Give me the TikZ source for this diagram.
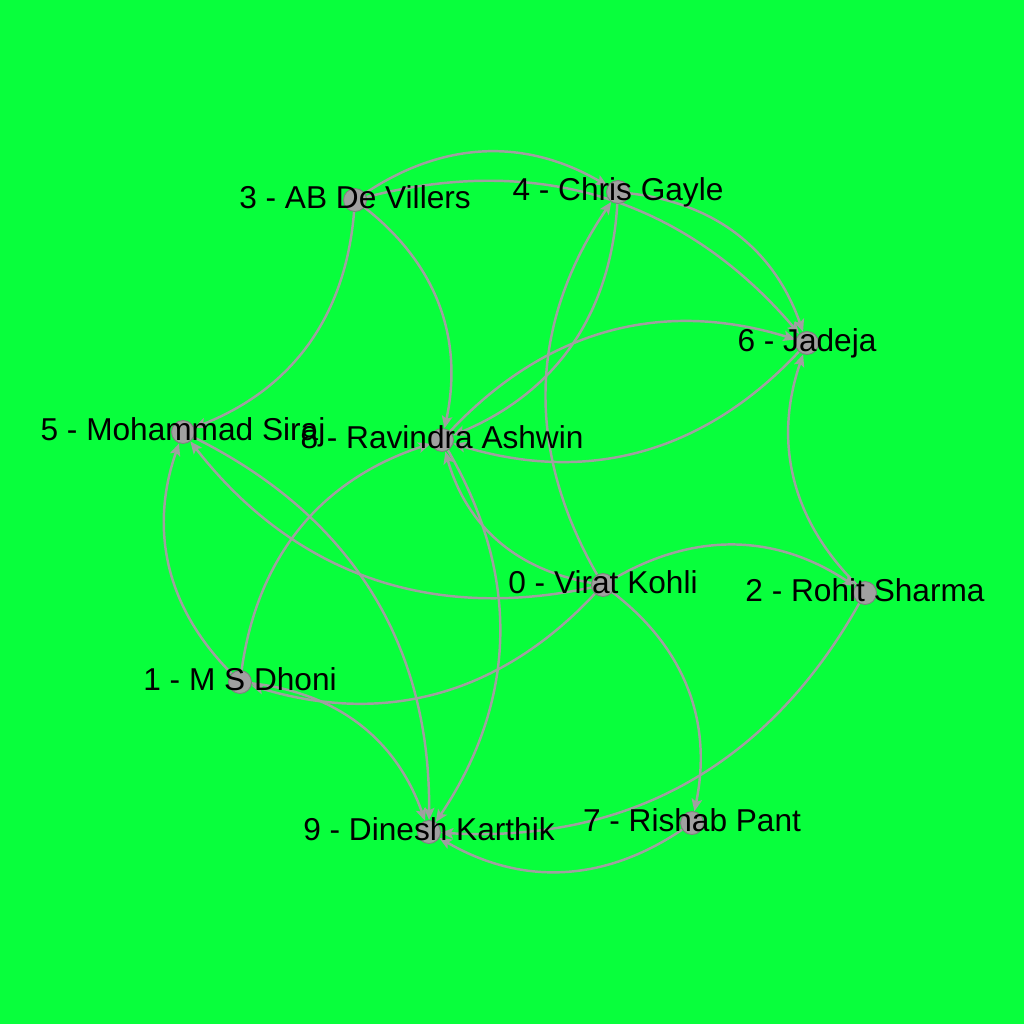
\documentclass[tikz,border=0pt]{standalone}
\usepackage{fontspec}
\setmainfont{Liberation Sans}
\usetikzlibrary{arrows.meta, backgrounds}
\definecolor{pitchGreen}{HTML}{08FF3C}
\definecolor{edgeGray}{HTML}{A0A0A0}
\definecolor{nodeGray}{HTML}{A0A0A0}
\definecolor{nodeBorder}{HTML}{808080}
\tikzset{
  player/.style={
    circle, draw=nodeBorder, fill=nodeGray, minimum size=0.46cm,
    inner sep=0pt, line width=0.5pt,
  },
  playername/.style={
    anchor=base, inner sep=0pt, text=black,
    font=\fontsize{18pt}{21pt}\selectfont,
  },
  link/.style={
    -{Stealth[length=7pt, width=6pt, inset=1.5pt]}, line width=1.4pt, color=edgeGray,
    bend left=32,
  },
}

\begin{document}
\begin{tikzpicture}[x=0.02cm, y=-0.02cm]

  % === Players ===
  \node[player] (kohli)   at (603,585) {};
  \node[player] (dhoni)   at (240,682) {};
  \node[player] (rohit)   at (865,593) {};
  \node[player] (abd)     at (355,200) {};
  \node[player] (gayle)   at (618,192) {};
  \node[player] (siraj)   at (183,432) {};
  \node[player] (jadeja)  at (807,343) {};
  \node[player] (pant)    at (692,823) {};
  \node[player] (ashwin)  at (442,440) {};
  \node[player] (karthik) at (429,832) {};

  % === Names, baseline just below the centre ===
  \node[playername] (kohliname)   at (603,593) {0 - Virat Kohli};
  \node[playername] (dhoniname)   at (240,690) {1 - M S Dhoni};
  \node[playername] (rohitname)   at (865,601) {2 - Rohit Sharma};
  \node[playername] (abdname)     at (355,208) {3 - AB De Villers};
  \node[playername] (gaylename)   at (618,200) {4 - Chris Gayle};
  \node[playername] (sirajname)   at (183,440) {5 - Mohammad Siraj};
  \node[playername] (jadejaname)  at (807,351) {6 - Jadeja};
  \node[playername] (pantname)    at (692,831) {7 - Rishab Pant};
  \node[playername] (ashwinname)  at (442,448) {8 - Ravindra Ashwin};
  \node[playername] (karthikname) at (429,840) {9 - Dinesh Karthik};

  % === Background and links, behind the players ===
  \begin{pgfonlayer}{background}
    \fill[pitchGreen] (0,0) rectangle (1024,1024);

    \draw[link] (abd) to (gayle);
    \draw[link] (abd) to (jadeja);
    \draw[link] (abd) to (siraj);
    \draw[link] (abd) to (ashwin);
    \draw[link] (gayle) to (jadeja);
    \draw[link] (gayle) to (ashwin);
    \draw[link] (kohli) to (gayle);
    \draw[link] (kohli) to (rohit);
    \draw[link] (kohli) to (dhoni);
    \draw[link] (kohli) to (siraj);
    \draw[link] (kohli) to (pant);
    \draw[link] (kohli) to (ashwin);
    \draw[link] (ashwin) to (jadeja);
    \draw[link] (jadeja) to (ashwin);
    \draw[link] (rohit) to (jadeja);
    \draw[link] (rohit) to (karthik);
    \draw[link] (dhoni) to (siraj);
    \draw[link] (dhoni) to (karthik);
    \draw[link] (dhoni) to (ashwin);
    \draw[link] (siraj) to (karthik);
    \draw[link] (ashwin) to (karthik);
    \draw[link] (pant) to (karthik);
  \end{pgfonlayer}

\end{tikzpicture}
\end{document}
